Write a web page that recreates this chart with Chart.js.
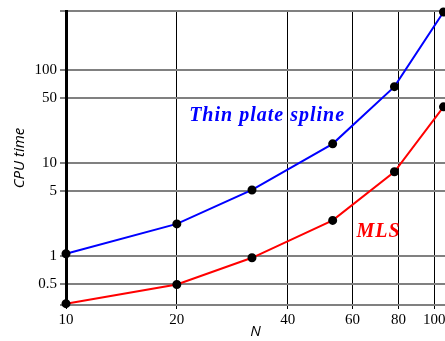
<!DOCTYPE html>
<html><head><meta charset="utf-8">
<script src="https://cdn.jsdelivr.net/npm/chart.js@4/dist/chart.umd.min.js"></script>
<style>html,body{margin:0;padding:0;background:#fff;overflow:hidden}#wrap{width:445px;height:341px}</style>
</head><body><div id="wrap"><canvas id="c"></canvas></div>
<script>
const nValues = [10, 20, 32, 53, 78, 106];
const tpsTimes = [1.05, 2.2, 5.1, 16, 66, 420];
const mlsTimes = [0.305, 0.49, 0.95, 2.4, 8.0, 40];
const xTicks = [10, 20, 40, 60, 80, 100];
const yTicks = [0.5, 1, 5, 10, 50, 100];
const labels = [
  {text: 'Thin plate spline', x: 21.6, y: 28.5, color: '#0000ff'},
  {text: 'MLS', x: 61.5, y: 1.6, color: '#ff0000'}
];

const textPlugin = {
  id: 'textLabels',
  afterDatasetsDraw(chart) {
    const ctx = chart.ctx, xs = chart.scales.x, ys = chart.scales.y;
    ctx.save();
    ctx.font = 'italic bold 20px "Liberation Serif", serif';
    ctx.letterSpacing = '1px';
    ctx.textBaseline = 'alphabetic';
    ctx.textAlign = 'left';
    labels.forEach(l => {
      ctx.fillStyle = l.color;
      ctx.fillText(l.text, xs.getPixelForValue(l.x), ys.getPixelForValue(l.y));
    });
    ctx.restore();
  }
};

new Chart(document.getElementById('c'), {
  type: 'line',
  data: {
    datasets: [
      {data: nValues.map((n, i) => ({x: n, y: tpsTimes[i]})), borderColor: '#0000ff', borderWidth: 2,
       pointRadius: 3.5, pointBackgroundColor: '#000', pointBorderColor: '#000', tension: 0},
      {data: nValues.map((n, i) => ({x: n, y: mlsTimes[i]})), borderColor: '#ff0000', borderWidth: 2,
       pointRadius: 3.5, pointBackgroundColor: '#000', pointBorderColor: '#000', tension: 0}
    ]
  },
  options: {
    responsive: true, maintainAspectRatio: false, animation: false,
    layout: {autoPadding: false, padding: {top: 11, right: 0, left: 0, bottom: 0}},
    plugins: {legend: {display: false}, tooltip: {enabled: false}},
    clip: false,
    scales: {
      x: {
        type: 'logarithmic', min: 10, max: 107,
        afterBuildTicks: s => { s.ticks = xTicks.map(v => ({value: v})); },
        afterFit: s => { s.height = 36; s.paddingLeft = 0; s.paddingRight = 0; },
        ticks: {autoSkip: false, maxRotation: 0, color: '#000', padding: 2,
                font: {family: '"Liberation Serif", serif', size: 15},
                callback: v => String(v)},
        grid: {color: '#000', lineWidth: 1, tickLength: 4},
        border: {display: true, color: '#808080', width: 2},
        title: {display: true, text: 'N', color: '#000', padding: {top: -4, bottom: 0},
                font: {family: '"Open Sans", sans-serif', size: 15, style: 'italic'}}
      },
      y: {
        type: 'logarithmic', min: 0.295, max: 430,
        afterBuildTicks: s => { s.ticks = [0.295].concat(yTicks, [430]).map(v => ({value: v})); },
        afterFit: s => { s.width = 66; s.paddingTop = 0; s.paddingBottom = 0; },
        ticks: {autoSkip: false, color: '#000', padding: 3,
                font: {family: '"Liberation Serif", serif', size: 15},
                callback: v => yTicks.includes(v) ? String(v) : ''},
        grid: {color: '#808080', lineWidth: 2, tickLength: 6},
        border: {display: true, color: '#000', width: 3},
        title: {display: true, text: 'CPU time', color: '#000', padding: {top: 11, bottom: 4},
                font: {family: '"Open Sans", sans-serif', size: 15, style: 'italic'}}
      }
    }
  },
  plugins: [textPlugin]
});
</script></body></html>
